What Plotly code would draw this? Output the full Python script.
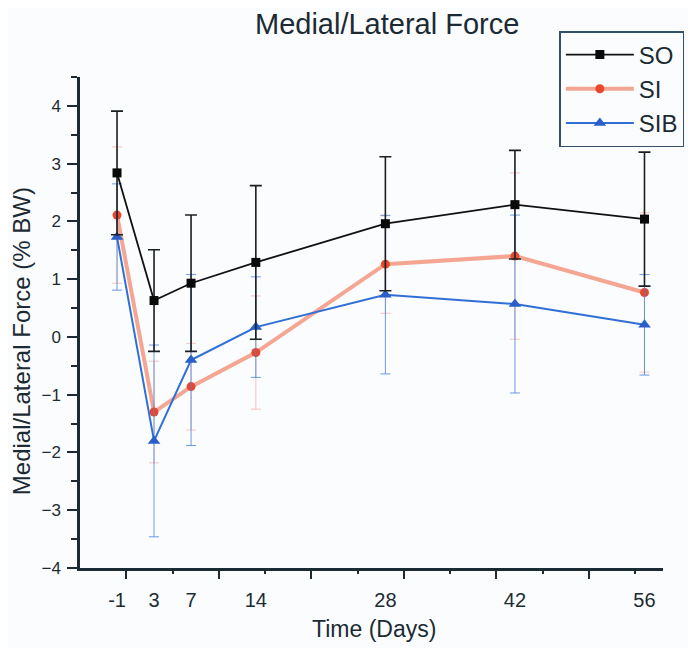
import plotly.graph_objects as go

days = [-1, 3, 7, 14, 28, 42, 56]
day_labels = ["-1", "3", "7", "14", "28", "42", "56"]

so_mean = [2.84, 0.63, 0.93, 1.29, 1.96, 2.29, 2.04]
so_sd = [1.07, 0.88, 1.18, 1.33, 1.16, 0.94, 1.16]

si_mean = [2.11, -1.30, -0.86, -0.27, 1.26, 1.40, 0.77]
si_sd = [1.18, 0.88, 0.75, 0.98, 0.85, 1.44, 1.38]

sib_mean = [1.73, -1.80, -0.40, 0.17, 0.73, 0.57, 0.21]
sib_sd = [0.92, 1.66, 1.48, 0.87, 1.37, 1.54, 0.87]

y_ticks = [-4, -3, -2, -1, 0, 1, 2, 3, 4]
x_major_marks = [0, 10, 20, 30, 40, 50]
x_minor_marks = [5, 15, 25, 35, 45, 55]

DARK = "#1c2b33"
FONT = "Liberation Sans, Arial, sans-serif"
BG = "#fbfcfe"

fig = go.Figure()

fig.add_trace(go.Scatter(
    x=days, y=si_mean, name="SI", mode="lines+markers",
    line=dict(color="rgba(242,150,128,0.85)", width=4),
    marker=dict(symbol="circle", size=9, color="#e8472c"),
    error_y=dict(type="data", array=si_sd, visible=True,
                 color="rgba(240,150,135,0.55)", thickness=1, width=5),
    legendrank=2,
))
fig.add_trace(go.Scatter(
    x=days, y=sib_mean, name="SIB", mode="lines+markers",
    line=dict(color="#2f6fd6", width=2),
    marker=dict(symbol="triangle-up", size=11, color="#2a5fc8"),
    error_y=dict(type="data", array=sib_sd, visible=True,
                 color="rgba(70,130,220,0.8)", thickness=1, width=5),
    legendrank=3,
))
fig.add_trace(go.Scatter(
    x=days, y=so_mean, name="SO", mode="lines+markers",
    line=dict(color="#111111", width=1.8),
    marker=dict(symbol="square", size=9, color="#0a0a0a"),
    error_y=dict(type="data", array=so_sd, visible=True,
                 color="#1a1f22", thickness=1.6, width=6),
    legendrank=1,
))
# invisible helper trace for the tick-mark axis
fig.add_trace(go.Scatter(x=[None], y=[None], xaxis="x2", showlegend=False, hoverinfo="skip"))

fig.update_layout(
    width=688, height=640,
    paper_bgcolor=BG, plot_bgcolor=BG,
    margin=dict(l=72, r=31, t=69, b=80),
    font=dict(family=FONT, color=DARK),
    showlegend=True,
    legend=dict(
        x=(561 - 80) / 585, y=(568 - 31) / 491, xanchor="left", yanchor="top",
        bgcolor=BG, bordercolor="#35506a", borderwidth=1.5,
        font=dict(size=24, family=FONT, color="#1c2b33"),
        itemwidth=68,
    ),
    xaxis=dict(
        range=[-5, 58], tickmode="array", tickvals=days, ticktext=day_labels,
        ticks="outside", ticklen=12, tickcolor="rgba(0,0,0,0)",
        tickfont=dict(size=20, family=FONT, color=DARK),
        showline=True, linecolor=DARK, linewidth=2.5,
        showgrid=False, zeroline=False,
    ),
    xaxis2=dict(
        range=[-5, 58], overlaying="x", anchor="y", side="bottom",
        tickmode="array", tickvals=x_major_marks, showticklabels=False,
        ticks="outside", ticklen=10, tickwidth=2, tickcolor=DARK,
        minor=dict(tickmode="array", tickvals=x_minor_marks, ticks="outside",
                   ticklen=5, tickwidth=1.5, tickcolor=DARK),
        showline=False, showgrid=False, zeroline=False,
    ),
    yaxis=dict(
        range=[-4, 4.5], tickmode="array", tickvals=y_ticks,
        ticks="outside", ticklen=10, tickwidth=2, tickcolor=DARK,
        ticklabelstandoff=3,
        minor=dict(tick0=-4, dtick=0.5, ticks="outside", ticklen=6,
                   tickwidth=1.5, tickcolor=DARK),
        tickfont=dict(size=17, family=FONT, color=DARK),
        showline=True, linecolor=DARK, linewidth=2.5,
        showgrid=False, zeroline=False,
    ),
    annotations=[
        dict(text="Medial/Lateral Force", xref="paper", yref="paper",
             x=(388 - 80) / 585, y=(568 - 24) / 491, xanchor="center", yanchor="middle",
             showarrow=False, font=dict(size=29, family=FONT, color=DARK)),
        dict(text="Time (Days)", xref="paper", yref="paper",
             x=(375 - 80) / 585, y=(568 - 629) / 491, xanchor="center", yanchor="middle",
             showarrow=False, font=dict(size=23, family=FONT, color=DARK)),
        dict(text="Medial/Lateral Force (% BW)", xref="paper", yref="paper",
             x=(21 - 80) / 585, y=(568 - 341) / 491, xanchor="center", yanchor="middle",
             textangle=-90, showarrow=False, font=dict(size=24, family=FONT, color=DARK)),
    ],
)

fig.write_html("out.html")
